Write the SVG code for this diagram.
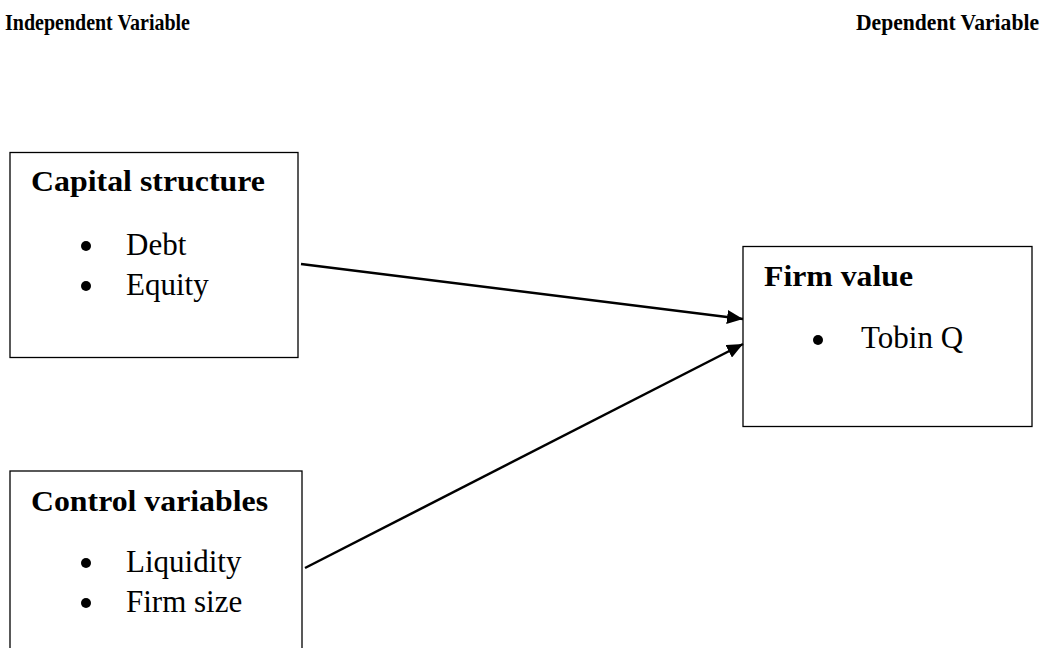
<svg xmlns="http://www.w3.org/2000/svg" width="1059" height="648" viewBox="0 0 1059 648">
<style>
.box{fill:#fff;stroke:#000;stroke-width:1.3}
.hd{font-family:"Liberation Serif",serif;font-weight:bold;font-size:23px;fill:#000}
.h{font-family:"Liberation Serif",serif;font-weight:bold;font-size:30px;fill:#000}
.t{font-family:"Liberation Serif",serif;font-size:31px;fill:#000}
.b{fill:#000}
.c{stroke:#000;stroke-width:2.5;fill:none}
</style>
<defs>
<marker id="arr" viewBox="0 0 16 14" refX="16" refY="7" markerWidth="16" markerHeight="14" orient="auto" markerUnits="userSpaceOnUse">
<path d="M0,0 L16,7 L0,14 z" fill="#000"/>
</marker>
</defs>
<rect width="1059" height="648" fill="#fff"/>
<g id="heading-independent"><text class="hd" x="5" y="30" textLength="185" lengthAdjust="spacingAndGlyphs">Independent Variable</text></g>
<g id="heading-dependent"><text class="hd" x="856" y="30" textLength="183" lengthAdjust="spacingAndGlyphs">Dependent Variable</text></g>
<g id="capital-structure">
<rect class="box" x="10" y="152.5" width="288" height="205"/>
<text class="h" x="31" y="191" textLength="234" lengthAdjust="spacingAndGlyphs">Capital structure</text>
<circle class="b" cx="86" cy="246" r="5"/>
<text class="t" x="126" y="255">Debt</text>
<circle class="b" cx="86" cy="286" r="5"/>
<text class="t" x="126" y="295">Equity</text>
</g>
<g id="control-variables">
<rect class="box" x="10" y="471" width="292" height="200"/>
<text class="h" x="31" y="511" textLength="237" lengthAdjust="spacingAndGlyphs">Control variables</text>
<circle class="b" cx="86" cy="563" r="5"/>
<text class="t" x="126" y="572">Liquidity</text>
<circle class="b" cx="86" cy="603" r="5"/>
<text class="t" x="126" y="612">Firm size</text>
</g>
<g id="firm-value">
<rect class="box" x="743" y="246.5" width="289" height="180"/>
<text class="h" x="764" y="286" textLength="149" lengthAdjust="spacingAndGlyphs">Firm value</text>
<circle class="b" cx="818" cy="340" r="5"/>
<text class="t" x="861" y="348">Tobin Q</text>
</g>
<g id="connectors">
<line class="c" x1="301" y1="264" x2="743" y2="319" marker-end="url(#arr)"/>
<line class="c" x1="305" y1="568" x2="743" y2="344" marker-end="url(#arr)"/>
</g>
</svg>
